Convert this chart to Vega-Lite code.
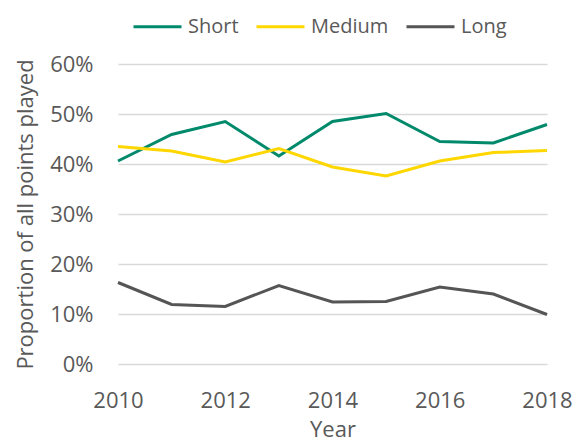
{
  "$schema": "https://vega.github.io/schema/vega-lite/v6.json",
  "autosize": {"type": "none"},
  "padding": {"left": 118, "top": 64, "right": 28, "bottom": 73},
  "width": 429,
  "height": 300,
  "background": "white",
  "config": {
    "view": {"stroke": null},
    "font": "Open Sans",
    "axis": {"labelColor": "#595959", "titleColor": "#595959", "labelFont": "Open Sans", "titleFont": "Open Sans", "titleFontWeight": "normal"},
    "legend": {"labelColor": "#595959", "labelFont": "Open Sans"}
  },
  "data": {
    "values": [
      {"Year": 2010, "Length": "Short", "Proportion": 0.406},
      {"Year": 2011, "Length": "Short", "Proportion": 0.459},
      {"Year": 2012, "Length": "Short", "Proportion": 0.485},
      {"Year": 2013, "Length": "Short", "Proportion": 0.416},
      {"Year": 2014, "Length": "Short", "Proportion": 0.485},
      {"Year": 2015, "Length": "Short", "Proportion": 0.501},
      {"Year": 2016, "Length": "Short", "Proportion": 0.445},
      {"Year": 2017, "Length": "Short", "Proportion": 0.442},
      {"Year": 2018, "Length": "Short", "Proportion": 0.479},
      {"Year": 2010, "Length": "Medium", "Proportion": 0.435},
      {"Year": 2011, "Length": "Medium", "Proportion": 0.426},
      {"Year": 2012, "Length": "Medium", "Proportion": 0.404},
      {"Year": 2013, "Length": "Medium", "Proportion": 0.431},
      {"Year": 2014, "Length": "Medium", "Proportion": 0.394},
      {"Year": 2015, "Length": "Medium", "Proportion": 0.376},
      {"Year": 2016, "Length": "Medium", "Proportion": 0.406},
      {"Year": 2017, "Length": "Medium", "Proportion": 0.423},
      {"Year": 2018, "Length": "Medium", "Proportion": 0.427},
      {"Year": 2010, "Length": "Long", "Proportion": 0.163},
      {"Year": 2011, "Length": "Long", "Proportion": 0.119},
      {"Year": 2012, "Length": "Long", "Proportion": 0.115},
      {"Year": 2013, "Length": "Long", "Proportion": 0.157},
      {"Year": 2014, "Length": "Long", "Proportion": 0.124},
      {"Year": 2015, "Length": "Long", "Proportion": 0.125},
      {"Year": 2016, "Length": "Long", "Proportion": 0.154},
      {"Year": 2017, "Length": "Long", "Proportion": 0.140},
      {"Year": 2018, "Length": "Long", "Proportion": 0.099}
    ]
  },
  "mark": {"type": "line", "strokeWidth": 3},
  "encoding": {
    "x": {
      "field": "Year", "type": "quantitative",
      "scale": {"domain": [2010, 2018], "nice": false, "zero": false},
      "axis": {"values": [2010, 2012, 2014, 2016, 2018], "format": "d", "grid": false, "domain": false, "ticks": false,
               "labelFlush": false, "labelOverlap": false,
               "labelFontSize": 22, "labelPadding": 26, "title": "Year", "titleFontSize": 22, "titlePadding": 8}
    },
    "y": {
      "field": "Proportion", "type": "quantitative",
      "scale": {"domain": [0, 0.6], "nice": false},
      "axis": {"values": [0, 0.1, 0.2, 0.3, 0.4, 0.5, 0.6], "format": ".0%", "grid": true, "gridColor": "#d9d9d9", "gridWidth": 1.5,
               "domain": false, "ticks": false, "labelFontSize": 22, "labelPadding": 25,
               "title": "Proportion of all points played", "titleFontSize": 22, "titlePadding": 12}
    },
    "color": {
      "field": "Length", "type": "nominal",
      "scale": {"domain": ["Short", "Medium", "Long"], "range": ["#008a6b", "#ffd700", "#555555"]},
      "legend": {"title": null, "orient": "none", "direction": "horizontal", "legendX": 14, "legendY": -63,
                 "symbolType": "stroke", "symbolSize": 2304, "symbolStrokeWidth": 3, "labelFontSize": 20,
                 "labelOffset": 5, "columnPadding": 11}
    }
  }
}
